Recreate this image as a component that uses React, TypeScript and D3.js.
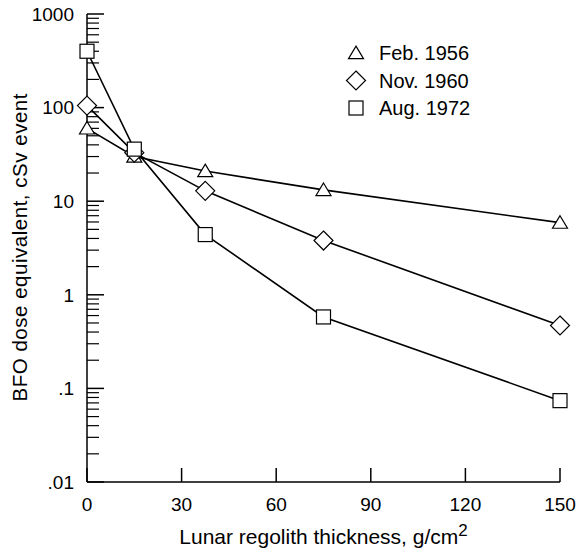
import React from "react";
import * as d3 from "d3";

const thickness = [0, 15, 37.5, 75, 150];
const feb1956 = [60, 30, 21, 13.2, 5.9];
const nov1960 = [105, 33, 12.9, 3.8, 0.47];
const aug1972 = [400, 36, 4.4, 0.58, 0.074];
const seriesNames = ["Feb. 1956", "Nov. 1960", "Aug. 1972"];
const seriesShapes = ["triangle", "diamond", "square"];
const xTicks = [0, 30, 60, 90, 120, 150];
const yTicks = [0.01, 0.1, 1, 10, 100, 1000];
const yTickLabels = [".01", ".1", "1", "10", "100", "1000"];

const W = 580, H = 554;
const FONT = "'Liberation Sans', Arial, Helvetica, sans-serif";

function Marker({ shape, cx, cy }: { shape: string; cx: number; cy: number }) {
  const st = { fill: "#fff", stroke: "#000", strokeWidth: 1.2 };
  if (shape === "triangle") {
    const w = 7.5, h = 12.5;
    return <path d={`M${cx},${cy - h * 0.55} L${cx + w},${cy + h * 0.45} L${cx - w},${cy + h * 0.45} Z`} {...st} />;
  }
  if (shape === "diamond") {
    const r = 9.5;
    return <path d={`M${cx},${cy - r} L${cx + r},${cy} L${cx},${cy + r} L${cx - r},${cy} Z`} {...st} />;
  }
  const s = 7;
  return <rect x={cx - s} y={cy - s} width={2 * s} height={2 * s} {...st} />;
}

export default function App() {
  const x = d3.scaleLinear().domain([0, 150]).range([87, 560]);
  const y = d3.scaleLog().domain([0.01, 1000]).range([482, 14]);
  const series = [feb1956, nov1960, aug1972];
  const line = d3.line<number>().x((_, i) => x(thickness[i])).y((d) => y(d));

  const minor: number[] = [];
  for (let e = -2; e < 3; e++) {
    for (let m = 2; m <= 9; m++) minor.push(m * Math.pow(10, e));
  }

  return (
    <svg width={W} height={H} style={{ display: "block", position: "absolute", left: 0, top: 0 }}>
      <rect width={W} height={H} fill="#fff" />
      <g stroke="#000" strokeWidth={1.5} fill="none">
        <line x1={x(0)} x2={x(0)} y1={y(1000)} y2={y(0.01)} />
        <line x1={x(0)} x2={x(150)} y1={y(0.01)} y2={y(0.01)} />
        {yTicks.map((t) => (
          <line key={"ymaj" + t} x1={x(0)} x2={x(0) + 17} y1={y(t)} y2={y(t)} />
        ))}
        {minor.map((t, i) => (
          <line key={"ymin" + i} x1={x(0)} x2={x(0) + 12} y1={y(t)} y2={y(t)} strokeWidth={1.2} />
        ))}
        {xTicks.map((t) => (
          <line key={"x" + t} x1={x(t)} x2={x(t)} y1={y(0.01)} y2={y(0.01) - 14} />
        ))}
      </g>
      <g fontFamily={FONT} fontSize={19} fill="#000">
        {yTicks.map((t, i) => (
          <text key={"yl" + t} x={x(0) - 13} y={y(t)} dy="0.36em" textAnchor="end">
            {yTickLabels[i]}
          </text>
        ))}
        {xTicks.map((t) => (
          <text key={"xl" + t} x={x(t)} y={511} textAnchor="middle">
            {t}
          </text>
        ))}
        <text x={(x(0) + x(150)) / 2} y={544} textAnchor="middle" fontSize={21}>
          Lunar regolith thickness, g/cm<tspan dy={-8} fontSize={17}>2</tspan>
        </text>
        <text transform={`translate(27,247.5) rotate(-90)`} textAnchor="middle" fontSize={20.5} textLength={308} lengthAdjust="spacing">
          BFO dose equivalent, cSv event
        </text>
      </g>
      {series.map((s, k) => (
        <g key={"s" + k}>
          <path d={line(s) || ""} fill="none" stroke="#000" strokeWidth={1.6} />
          {s.map((v, i) => (
            <Marker key={i} shape={seriesShapes[k]} cx={x(thickness[i])} cy={y(v)} />
          ))}
        </g>
      ))}
      <g fontFamily={FONT} fontSize={20} fill="#000">
        {seriesNames.map((n, k) => (
          <g key={n}>
            <Marker shape={seriesShapes[k]} cx={356} cy={53 + k * 27.5} />
            <text x={379} y={60 + k * 27.5}>{n}</text>
          </g>
        ))}
      </g>
    </svg>
  );
}
